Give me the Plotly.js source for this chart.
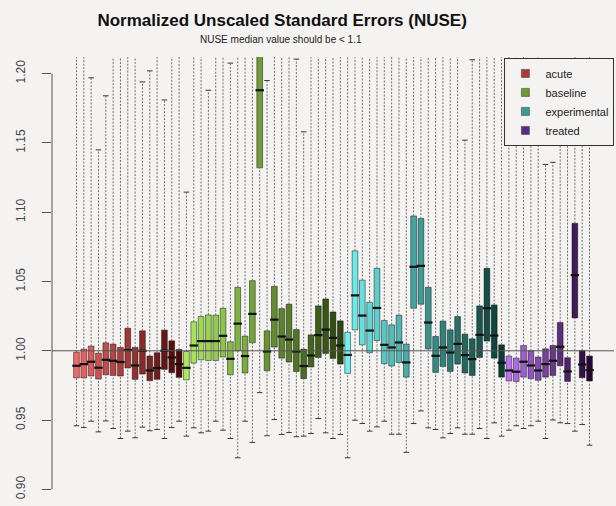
<!DOCTYPE html>
<html>
<head>
<meta charset="utf-8">
<script src="https://cdn.plot.ly/plotly-3.0.1.min.js"></script>
<style>
  html, body { margin: 0; padding: 0; background: #f4f3f1; }
  #chart { width: 616px; height: 506px; }
</style>
</head>
<body>
<div id="chart"></div>
<script>
// groups, in plotting order
var groupNames = ['acute', 'baseline', 'experimental', 'treated'];
var groupSizes = [15, 22, 22, 12];

// box statistics per array (left to right)
var q3 = [
  0.9990, 1.0012, 1.0034, 0.9983, 1.0058, 1.0048, 1.0024, 1.0163, 1.0024, 1.0144, 0.9962, 0.9986, 1.0149, 1.0072, 1.0009,
  0.9995, 1.0209, 1.0247, 1.0259, 1.0257, 1.0307, 1.0065, 1.0458, 1.0106, 1.0506, 1.2500, 1.0144, 1.0465, 1.0304, 1.0336, 1.0153, 1.0012, 1.0115, 1.0324, 1.0374, 1.0280, 1.0216,
  1.0133, 1.0721, 1.0510, 1.0350, 1.0595, 1.0218, 1.0187, 1.0257, 1.0048, 1.0973, 1.0954, 1.0458, 1.0103, 1.0214, 1.0151, 1.0247, 1.0120, 1.0086, 1.0324, 1.0595, 1.0331, 1.0043,
  0.9962, 0.9947, 1.0038, 1.0000, 0.9955, 1.0014, 1.0038, 1.0204, 0.9950, 1.0920, 1.0002, 0.9962
];
var med = [
  0.9892, 0.9904, 0.9921, 0.9878, 0.9935, 0.9928, 0.9919, 1.0005, 0.9894, 1.0000, 0.9858, 0.9876, 1.0000, 0.9952, 0.9904,
  0.9877, 1.0038, 1.0070, 1.0070, 1.0070, 1.0108, 0.9942, 1.0196, 0.9962, 1.0266, 1.1880, 0.9995, 1.0225, 1.0103, 1.0081, 0.9995, 0.9890, 0.9966, 1.0113, 1.0153, 1.0093, 1.0038,
  0.9970, 1.0400, 1.0254, 1.0146, 1.0309, 1.0043, 1.0024, 1.0060, 0.9916, 1.0606, 1.0613, 1.0204, 0.9964, 1.0024, 0.9988, 1.0050, 0.9969, 0.9940, 1.0115, 1.0307, 1.0110, 0.9914,
  0.9858, 0.9849, 0.9921, 0.9894, 0.9858, 0.9904, 0.9928, 1.0029, 0.9851, 1.0546, 0.9901, 0.9861
];
var q1 = [
  0.9804, 0.9804, 0.9818, 0.9796, 0.9827, 0.9822, 0.9818, 0.9876, 0.9794, 0.9832, 0.9784, 0.9794, 0.9866, 0.9842, 0.9808,
  0.9790, 0.9911, 0.9935, 0.9930, 0.9930, 0.9955, 0.9827, 1.0000, 0.9840, 1.0058, 1.1320, 0.9856, 1.0027, 0.9947, 0.9919, 0.9851, 0.9799, 0.9883, 0.9952, 0.9981, 0.9945, 0.9904,
  0.9837, 1.0151, 1.0043, 0.9986, 1.0074, 0.9907, 0.9890, 0.9916, 0.9810, 1.0307, 1.0336, 1.0014, 0.9844, 0.9887, 0.9851, 0.9904, 0.9840, 0.9822, 0.9952, 1.0070, 0.9947, 0.9810,
  0.9782, 0.9779, 0.9810, 0.9799, 0.9787, 0.9810, 0.9822, 0.9892, 0.9779, 1.0237, 0.9806, 0.9782
];
var lowWhisker = [
  0.9459, 0.9446, 0.9492, 0.9415, 0.9494, 0.9439, 0.9367, 0.9420, 0.9372, 0.9449, 0.9423, 0.9432, 0.9367, 0.9446, 0.9492,
  0.9384, 0.9444, 0.9408, 0.9420, 0.9492, 0.9427, 0.9367, 0.9228, 0.9492, 0.9339, 0.9698, 0.9387, 0.9504, 0.9396, 0.9410, 0.9380, 0.9384, 0.9403, 0.9511, 0.9408, 0.9367, 0.9396,
  0.9228, 0.9499, 0.9475, 0.9420, 0.9451, 0.9492, 0.9398, 0.9398, 0.9267, 0.9475, 0.9566, 0.9444, 0.9432, 0.9372, 0.9403, 0.9444, 0.9398, 0.9398, 0.9439, 0.9367, 0.9480, 0.9384,
  0.9427, 0.9459, 0.9439, 0.9459, 0.9492, 0.9367, 0.9501, 0.9480, 0.9475, 0.9420, 0.9468, 0.9319
];
var highWhisker = [
  1.250, 1.250, 1.197, 1.145, 1.184, 1.250, 1.250, 1.250, 1.250, 1.194, 1.202, 1.250, 1.181, 1.250, 1.250,
  1.1145, 1.250, 1.250, 1.188, 1.250, 1.250, 1.2076, 1.250, 1.250, 1.250, 1.300, 1.195, 1.250, 1.250, 1.250, 1.2105, 1.158, 1.250, 1.250, 1.250, 1.250, 1.250,
  1.250, 1.250, 1.250, 1.250, 1.250, 1.250, 1.250, 1.250, 1.250, 1.250, 1.250, 1.250, 1.250, 1.250, 1.250, 1.250, 1.152, 1.210, 1.250, 1.250, 1.250, 1.250,
  1.250, 1.250, 1.250, 1.250, 1.250, 1.1345, 1.136, 1.250, 1.250, 1.250, 1.250, 1.250
];

var tickVals = [0.90, 0.95, 1.00, 1.05, 1.10, 1.15, 1.20];
var tickText = ['0.90', '0.95', '1.00', '1.05', '1.10', '1.15', '1.20'];
var refValue = 1.00;

// styling
var bg = '#f4f3f1';
var shadeStops = [
  [[240, 104, 104], [78, 8, 8]],
  [[170, 234, 92], [44, 70, 14]],
  [[112, 240, 240], [10, 62, 52]],
  [[186, 114, 242], [38, 6, 54]]
];
var legendColors = ['#a83a3a', '#6e9a35', '#3a9a92', '#5a2a88'];

var xs = [], colors = [];
var k = 0;
groupSizes.forEach(function(n, g) {
  for (var j = 0; j < n; j++) {
    var t = n > 1 ? j / (n - 1) : 0;
    var a = shadeStops[g][0], b = shadeStops[g][1];
    colors.push('rgb(' + [0, 1, 2].map(function(c) {
      return Math.round(a[c] + (b[c] - a[c]) * t);
    }).join(',') + ')');
    xs.push(k);
    k++;
  }
});

var wx = [], wy = [], cx = [], cy = [];
xs.forEach(function(x, i) {
  wx.push(x, x, null, x, x, null);
  wy.push(q3[i], highWhisker[i], null, lowWhisker[i], q1[i], null);
  cx.push(x, x);
  cy.push(lowWhisker[i], highWhisker[i]);
});

var whiskers = {
  x: wx, y: wy, type: 'scatter', mode: 'lines',
  line: {color: '#707070', width: 1, dash: '2px,1.5px'},
  hoverinfo: 'skip', showlegend: false
};
var caps = {
  x: cx, y: cy, type: 'scatter', mode: 'markers',
  marker: {symbol: 'line-ew', size: 4, line: {color: '#3a3a3a', width: 1}},
  hoverinfo: 'skip', showlegend: false
};
var boxes = {
  x: xs, base: q1,
  y: q3.map(function(v, i) { return v - q1[i]; }),
  type: 'bar', width: 0.78,
  marker: {color: colors, line: {color: 'rgba(0,0,0,0.45)', width: 1}},
  showlegend: false
};
var medians = {
  x: xs, y: med, type: 'scatter', mode: 'markers',
  marker: {symbol: 'line-ew', size: 6, line: {color: '#111', width: 2.2}},
  showlegend: false
};

var legendTraces = groupNames.map(function(name, g) {
  return {
    x: [null], y: [null], type: 'scatter', mode: 'markers', name: name,
    marker: {symbol: 'square', size: 8, color: legendColors[g], line: {color: '#333', width: 0.5}}
  };
});

var layout = {
  width: 616, height: 506,
  paper_bgcolor: bg, plot_bgcolor: bg,
  margin: {l: 52, r: 2, t: 57, b: 0, autoexpand: false},
  font: {family: 'Liberation Sans, Arial, sans-serif', color: '#333'},
  barmode: 'overlay',
  title: {
    text: '<b>Normalized Unscaled Standard Errors (NUSE)</b>',
    font: {size: 17, color: '#111'},
    x: 0.458, xref: 'container', xanchor: 'center',
    y: 0.9605, yref: 'container', yanchor: 'middle'
  },
  annotations: [{
    text: 'NUSE median value should be < 1.1',
    xref: 'paper', yref: 'paper', x: 0.4075, y: 1.038,
    xanchor: 'center', yanchor: 'middle', showarrow: false,
    font: {size: 10, color: '#222'}
  }],
  xaxis: {visible: false, range: [-3.34, 73.34], fixedrange: true},
  yaxis: {
    range: [0.888, 1.212],
    tickvals: tickVals, ticktext: tickText,
    tickangle: -90, ticks: 'outside', ticklen: 9, tickcolor: '#555',
    ticklabelstandoff: 12,
    tickfont: {size: 12, color: '#444'},
    showgrid: false, zeroline: false, showline: false
  },
  shapes: [
    {type: 'line', xref: 'paper', yref: 'y', x0: 0, x1: 0,
     y0: tickVals[0], y1: tickVals[tickVals.length - 1],
     line: {color: '#555', width: 1}},
    {type: 'line', xref: 'paper', yref: 'y', x0: 0, x1: 1,
     y0: refValue, y1: refValue, layer: 'above',
     line: {color: '#555', width: 1}}
  ],
  legend: {
    x: 0.805, y: 0.998, xanchor: 'left', yanchor: 'top',
    bgcolor: bg, bordercolor: '#333', borderwidth: 1,
    font: {size: 11, color: '#222'}, itemwidth: 30, tracegroupgap: 0
  }
};

Plotly.newPlot('chart', [whiskers, caps, boxes, medians].concat(legendTraces), layout,
  {displayModeBar: false, staticPlot: true});
</script>
</body>
</html>
